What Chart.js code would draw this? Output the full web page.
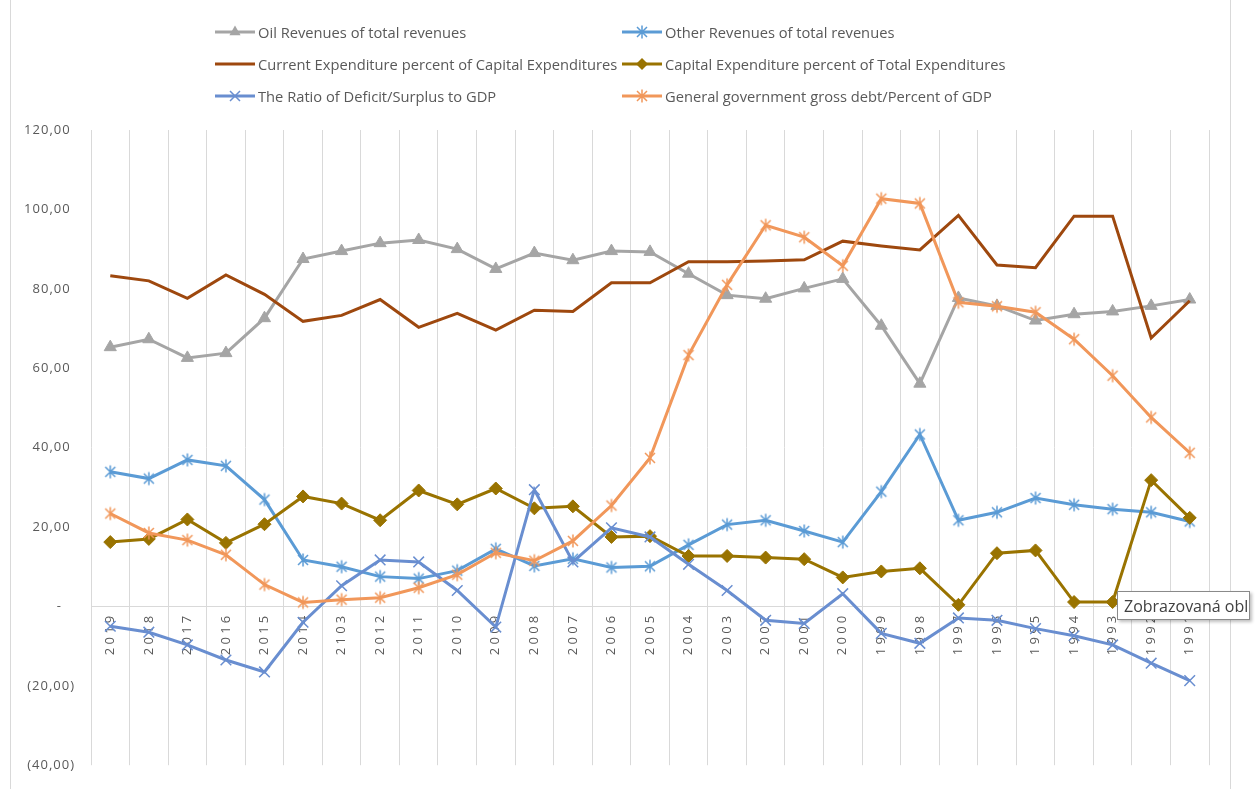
<!DOCTYPE html>
<html>
<head>
<meta charset="utf-8">
<script src="https://cdn.jsdelivr.net/npm/chart.js@4.4.0/dist/chart.umd.min.js"></script>
<style>
    html, body { margin: 0; padding: 0; background: #fff; }
    body { width: 1260px; height: 789px; position: relative; overflow: hidden; font-family: "Open Sans", sans-serif; }
    #chart { position: absolute; left: 0; top: 0; }
    .frame { position: absolute; top: 0; width: 1px; height: 789px; background: #d9d9d9; }
    .legend-item { position: absolute; height: 18px; display: flex; align-items: center; font-size: 14.7px; color: #595959; white-space: nowrap; }
    .legend-item canvas { margin-right: 3px; }
    #hint { position: absolute; left: 1117px; top: 591px; width: 133px; height: 29px; line-height: 29px;
        border: 1px solid #8a8a8a; background: #fff; box-shadow: 2px 2px 3px rgba(0,0,0,0.25);
        font-size: 16px; color: #404040; padding-left: 6px; box-sizing: border-box; overflow: hidden; white-space: nowrap; }
</style>
</head>
<body>
<div class="frame" style="left:10px"></div>
<div class="frame" style="left:1230px"></div>
<canvas id="chart" width="1260" height="789"></canvas>
<div id="legend"></div>
<div id="hint">Zobrazovaná oblast</div>
<script>
// Categories (as labelled in the source sheet)
const years = ['2019', '2018', '2017', '2016', '2015', '2014', '2103', '2012', '2011', '2010',
    '2009', '2008', '2007', '2006', '2005', '2004', '2003', '2002', '2001', '2000',
    '1999', '1998', '1997', '1996', '1995', '1994', '1993', '1992', '1991'];

// Series values
const oilRevenues = [65.3, 67.3, 62.6, 63.8, 72.6, 87.5, 89.5, 91.5, 92.3, 90.0,
    85.0, 89.0, 87.2, 89.5, 89.3, 83.8, 78.4, 77.5, 80.1, 82.5,
    70.7, 56.1, 77.7, 75.7, 72.0, 73.6, 74.3, 75.7, 77.3];
const otherRevenues = [33.9, 32.2, 36.9, 35.4, 26.9, 11.7, 10.0, 7.5, 7.0, 9.0,
    14.5, 10.2, 12.0, 9.8, 10.1, 15.5, 20.6, 21.7, 19.0, 16.2,
    28.9, 43.3, 21.7, 23.7, 27.3, 25.6, 24.5, 23.7, 21.4];
const currentExpenditure = [83.3, 82.0, 77.6, 83.5, 78.6, 71.8, 73.3, 77.3, 70.3, 73.8,
    69.6, 74.6, 74.3, 81.5, 81.5, 86.8, 86.8, 87.0, 87.3, 92.0,
    90.8, 89.8, 98.5, 86.0, 85.3, 98.3, 98.3, 67.6, 77.0];
const capitalExpenditure = [16.2, 17.0, 21.9, 16.0, 20.7, 27.7, 25.9, 21.7, 29.2, 25.7,
    29.7, 24.7, 25.2, 17.5, 17.7, 12.7, 12.7, 12.3, 11.9, 7.3,
    8.8, 9.6, 0.4, 13.4, 14.1, 1.1, 1.1, 31.8, 22.3];
const deficitRatio = [-5.0, -6.5, -9.7, -13.5, -16.5, -4.0, 5.2, 11.7, 11.2, 4.0,
    -5.2, 29.4, 11.2, 19.8, 17.5, 10.6, 4.0, -3.5, -4.3, 3.2,
    -6.8, -9.3, -2.9, -3.5, -5.6, -7.4, -9.7, -14.3, -18.7];
const grossDebt = [23.4, 18.5, 16.7, 13.0, 5.5, 1.0, 1.7, 2.2, 4.7, 8.0,
    13.5, 11.5, 16.5, 25.4, 37.4, 63.3, 81.0, 96.0, 93.0, 85.8,
    102.7, 101.5, 76.6, 75.6, 74.1, 67.3, 58.1, 47.6, 38.7];

// Y axis ticks, accounting style
const yTickValues = [-40, -20, 0, 20, 40, 60, 80, 100, 120];
const yTickLabels = ['(40,00)', '(20,00)', '-   ', '20,00 ', '40,00 ', '60,00 ', '80,00 ', '100,00 ', '120,00 '];

Chart.defaults.font.family = '"Open Sans", sans-serif';
Chart.defaults.color = '#595959';

// draw an Excel style marker
function drawMarker(c, kind, x, y, color) {
    c.fillStyle = color;
    c.strokeStyle = color;
    c.lineWidth = 1.5;
    c.beginPath();
    if (kind === 'triangle') {
        c.moveTo(x, y - 6.5);
        c.lineTo(x + 5.6, y + 3.3);
        c.lineTo(x - 5.6, y + 3.3);
        c.closePath();
        c.fill();
    } else if (kind === 'diamond') {
        c.moveTo(x, y - 6);
        c.lineTo(x + 6, y);
        c.lineTo(x, y + 6);
        c.lineTo(x - 6, y);
        c.closePath();
        c.fill();
    } else if (kind === 'x' || kind === 'asterisk') {
        c.moveTo(x - 5, y - 5); c.lineTo(x + 5, y + 5);
        c.moveTo(x + 5, y - 5); c.lineTo(x - 5, y + 5);
        if (kind === 'asterisk') { c.moveTo(x, y - 6.5); c.lineTo(x, y + 6.5); }
        c.stroke();
    }
}

function asteriskImage(color) {
    const cv = document.createElement('canvas');
    cv.width = 16; cv.height = 16;
    drawMarker(cv.getContext('2d'), 'asterisk', 8, 8, color);
    return cv;
}

const series = [
    { label: 'Oil Revenues of total revenues', data: oilRevenues, color: '#A5A5A5', marker: 'triangle' },
    { label: 'Other Revenues of total revenues', data: otherRevenues, color: '#5B9BD5', marker: 'asterisk' },
    { label: 'Current Expenditure percent of Capital Expenditures', data: currentExpenditure, color: '#9E480E', marker: 'none' },
    { label: 'Capital Expenditure percent of Total Expenditures', data: capitalExpenditure, color: '#997300', marker: 'diamond' },
    { label: 'The Ratio of Deficit/Surplus to GDP', data: deficitRatio, color: '#698ED0', marker: 'x' },
    { label: 'General government gross debt/Percent of GDP', data: grossDebt, color: '#F1975A', marker: 'asterisk' }
];

function pointOpts(s) {
    if (s.marker === 'none') return { pointRadius: 0 };
    if (s.marker === 'triangle') return { pointStyle: 'triangle', pointRadius: 7, pointBorderWidth: 1 };
    if (s.marker === 'diamond') return { pointStyle: 'rectRot', pointRadius: 6.5, pointBorderWidth: 1 };
    if (s.marker === 'x') return { pointStyle: 'crossRot', pointRadius: 7.5, pointBorderWidth: 1.5 };
    return { pointStyle: asteriskImage(s.color), pointRadius: 7 };
}

// letter spacing for the axis labels (x labels drawn first, y labels after datasets)
const labelSpacing = {
    id: 'labelSpacing',
    beforeDraw(chart) { chart.ctx.letterSpacing = '3.3px'; },
    beforeDatasetsDraw(chart) { chart.ctx.letterSpacing = '0px'; },
    afterDatasetsDraw(chart) { chart.ctx.letterSpacing = '1px'; },
    afterDraw(chart) { chart.ctx.letterSpacing = '0px'; }
};

const chart = new Chart(document.getElementById('chart'), {
    type: 'line',
    data: {
        labels: years,
        datasets: series.map((s, i) => Object.assign({
            label: s.label,
            data: s.data,
            borderColor: s.color,
            backgroundColor: s.color,
            pointBackgroundColor: s.color,
            pointBorderColor: s.color,
            borderWidth: 3,
            tension: 0,
            order: series.length - i
        }, pointOpts(s)))
    },
    options: {
        responsive: false,
        animation: false,
        events: [],
        layout: { padding: { top: 130, right: 51, bottom: 17, left: 0 } },
        plugins: {
            legend: { display: false },
            tooltip: { enabled: false }
        },
        scales: {
            x: {
                position: { y: 0 },
                offset: true,
                grid: { offset: true, color: '#d9d9d9', lineWidth: 1, drawTicks: false },
                border: { color: '#d9d9d9', width: 1 },
                ticks: { autoSkip: false, minRotation: 90, maxRotation: 90, padding: 6, font: { size: 13 }, z: 0 }
            },
            y: {
                min: -40,
                max: 120,
                afterBuildTicks: scale => { scale.ticks = yTickValues.map(v => ({ value: v })); },
                afterFit: scale => { scale.width = 91; },
                grid: { display: false, drawTicks: false },
                border: { display: false },
                ticks: {
                    padding: 16,
                    font: { size: 13 },
                    z: 1,
                    callback: v => yTickLabels[yTickValues.indexOf(v)]
                }
            }
        }
    },
    plugins: [labelSpacing]
});

// Legend in two columns, like the source
const legendBox = document.getElementById('legend');
chart.data.datasets.forEach((ds, i) => {
    const s = series[i];
    const item = document.createElement('div');
    item.className = 'legend-item';
    item.style.left = (i % 2 === 0 ? 215 : 622) + 'px';
    item.style.top = (32 + Math.floor(i / 2) * 32 - 9) + 'px';
    const sym = document.createElement('canvas');
    sym.width = 40; sym.height = 16;
    const c = sym.getContext('2d');
    c.strokeStyle = s.color;
    c.lineWidth = 3;
    c.beginPath(); c.moveTo(0, 8); c.lineTo(40, 8); c.stroke();
    drawMarker(c, s.marker, 20, 8, s.color);
    item.appendChild(sym);
    item.appendChild(document.createTextNode(ds.label));
    legendBox.appendChild(item);
});
</script>
</body>
</html>
